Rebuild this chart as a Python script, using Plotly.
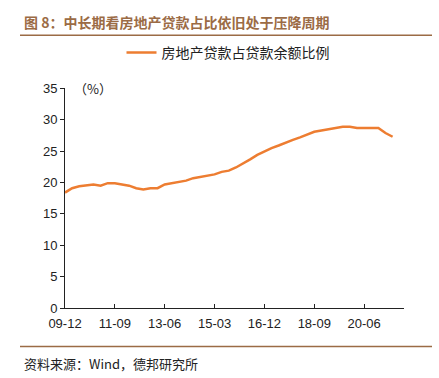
import plotly.graph_objects as go

tick_labels = ["09-12", "11-09", "13-06", "15-03", "16-12", "18-09", "20-06"]
ratio = [18.4, 19.1, 19.4, 19.6, 19.7, 19.5, 19.9, 19.9, 19.7, 19.5,
         19.1, 18.9, 19.1, 19.1, 19.7, 19.9, 20.1, 20.3, 20.7, 20.9,
         21.1, 21.3, 21.7, 21.9, 22.4, 23.0, 23.7, 24.4, 25.0, 25.5,
         25.9, 26.4, 26.8, 27.2, 27.6, 28.1, 28.3, 28.5, 28.7, 28.9,
         28.9, 28.7, 28.7, 28.7, 28.7, 27.9, 27.3]
series_name = "房地产贷款占贷款余额比例"

x = list(range(len(ratio)))
tickvals = [i * 7 for i in range(len(tick_labels))]

fig = go.Figure()
fig.add_trace(go.Scatter(x=x, y=ratio, mode="lines", name=series_name,
                         line=dict(color="#ED7D31", width=2.5)))

cjk = "Noto Sans CJK SC"
brown = "#9B6B45"
PW, PH = 339, 223
fig.update_layout(
    width=439, height=378,
    margin=dict(l=65, r=35, t=85, b=70),
    plot_bgcolor="white", paper_bgcolor="white",
    showlegend=True,
    legend=dict(orientation="h", x=(228 - 65) / PW, xanchor="center", y=1 - 53 / 378,
                yanchor="middle", yref="container",
                font=dict(family=cjk, size=14, color="#222"),
                bgcolor="rgba(0,0,0,0)"),
    font=dict(family="Liberation Sans, Arial", size=13, color="#222"),
    xaxis=dict(range=[0, 47.6], tickvals=tickvals, ticktext=tick_labels,
               showgrid=False, zeroline=False, showline=True, linecolor="#222",
               linewidth=1, ticks="inside", ticklen=4, tickcolor="#222",
               ticklabelstandoff=3, tickfont=dict(size=13, color="#222")),
    yaxis=dict(range=[0, 35], dtick=5, showgrid=False, zeroline=False,
               showline=True, linecolor="#222", linewidth=1, ticks="outside",
               ticklen=4, tickcolor="#222", tickfont=dict(size=13, color="#222")),
)

fig.add_annotation(text="图 8：中长期看房地产贷款占比依旧处于压降周期", xref="paper", yref="paper",
                   x=-43 / PW, y=1 + (85 - 18) / PH, xanchor="left", yanchor="middle",
                   showarrow=False, font=dict(family=cjk, size=14, color=brown, weight="bold"))
fig.add_annotation(text="（%）", xref="paper", yref="paper", x=0.02, y=1.0,
                   xanchor="left", yanchor="middle", showarrow=False,
                   font=dict(family=cjk, size=13, color="#222"))
fig.add_annotation(text="资料来源：Wind，德邦研究所", xref="paper", yref="paper",
                   x=-43 / PW, y=-(364 - 308) / PH, xanchor="left", yanchor="middle",
                   showarrow=False, font=dict(family=cjk, size=13, color="#222"))
fig.add_shape(type="line", xref="paper", yref="paper",
              x0=-45 / PW, x1=(432 - 65) / PW, y0=1 + (85 - 31) / PH, y1=1 + (85 - 31) / PH,
              line=dict(color=brown, width=1.5))
fig.add_shape(type="line", xref="paper", yref="paper",
              x0=-45 / PW, x1=(432 - 65) / PW, y0=-(347 - 308) / PH, y1=-(347 - 308) / PH,
              line=dict(color=brown, width=1.5))

fig.write_html("out.html", config={"displayModeBar": False},
               post_script="document.body.style.margin='0';")
